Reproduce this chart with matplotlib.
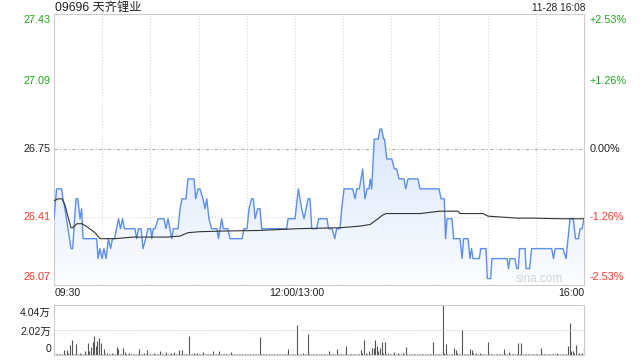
import numpy as np
import matplotlib
matplotlib.use("Agg")
import matplotlib.pyplot as plt
from matplotlib.colors import LinearSegmentedColormap

plt.rcParams['font.family'] = ['Liberation Sans', 'Noto Sans CJK SC', 'DejaVu Sans']

title = "09696 天齐锂业"
stamp = "11-28 16:08"
prev_close = 26.75

# price line vertices (minutes after 09:30, lunch break removed) and prices
price_min = [0, 1.6, 4.7, 5.6, 6.8, 10.6, 11.6, 13.7, 14.8, 16.2, 17.2, 18.1, 26.6, 27.4,
             28.6, 29.9, 31.1, 32.4, 33.9, 35.2, 36.4, 37.7, 38.9, 40.2, 41.4, 42.7, 43.9,
             50.4, 51.5, 52.6, 54.2, 55.4, 57.1, 58.5, 60.2, 60.8, 61.8, 62.9, 64.8, 68.5,
             69.7, 71.0, 73.3, 74.4, 77.2, 78.5, 79.7, 82.2, 83.4, 87.2, 88.2, 89.7, 90.9,
             92.8, 94.0, 95.1, 96.5, 98.1, 101.5, 102.4, 103.4, 104.4, 105.4, 108.3, 109.6,
             117.1, 118.3, 120.2, 121.4, 123.0, 124.1, 125.2, 126.8, 128.3, 129.3, 144.9,
             145.7, 150.1, 152.1, 154.2, 155.7, 158.2, 159.4, 160.5, 163.6, 164.7, 170.0,
             170.9, 173.1, 174.8, 176.0, 178.1, 179.1, 180.6, 186.0, 187.4, 188.5, 190.1,
             192.2, 193.6, 194.9, 196.1, 196.9, 197.8, 199.4, 201.9, 203.0, 204.0, 205.2,
             205.8, 207.2, 210.3, 211.9, 213.4, 214.8, 217.9, 219.0, 220.4, 226.6, 227.9,
             239.7, 241.0, 243.0, 243.8, 244.7, 247.8, 248.8, 252.8, 254.1, 255.0, 257.8,
             259.0, 260.0, 260.9, 264.8, 265.7, 269.0, 269.8, 271.9, 272.7, 282.1, 283.0,
             283.9, 287.0, 288.1, 289.1, 289.9, 293.3, 293.9, 296.1, 297.4, 309.9, 311.0,
             312.0, 316.9, 318.8, 321.3, 323.3, 324.7, 326.5, 327.6, 328.8, 330]
price_val = [26.40, 26.55, 26.55, 26.50, 26.45, 26.25, 26.25, 26.50, 26.50, 26.40, 26.45, 26.30, 26.30, 26.20,
             26.25, 26.20, 26.25, 26.20, 26.30, 26.25, 26.30, 26.30, 26.35, 26.40, 26.35, 26.40, 26.35,
             26.35, 26.30, 26.35, 26.35, 26.25, 26.30, 26.35, 26.35, 26.30, 26.35, 26.35, 26.40, 26.40,
             26.35, 26.40, 26.30, 26.35, 26.35, 26.45, 26.50, 26.50, 26.60, 26.60, 26.50, 26.55, 26.55,
             26.50, 26.45, 26.50, 26.40, 26.35, 26.35, 26.30, 26.35, 26.40, 26.35, 26.35, 26.30,
             26.30, 26.35, 26.35, 26.45, 26.50, 26.50, 26.40, 26.45, 26.45, 26.35, 26.35,
             26.40, 26.40, 26.55, 26.45, 26.40, 26.50, 26.50, 26.35, 26.35, 26.40, 26.40,
             26.35, 26.35, 26.30, 26.35, 26.35, 26.45, 26.55, 26.55, 26.50, 26.55, 26.55,
             26.65, 26.50, 26.55, 26.55, 26.60, 26.55, 26.80, 26.80, 26.85, 26.85, 26.80,
             26.80, 26.70, 26.70, 26.65, 26.65, 26.60, 26.60, 26.55, 26.60, 26.60, 26.55,
             26.55, 26.50, 26.50, 26.30, 26.40, 26.40, 26.30, 26.30, 26.20, 26.30, 26.30,
             26.20, 26.25, 26.20, 26.20, 26.25, 26.25, 26.10, 26.10, 26.20, 26.20, 26.15,
             26.20, 26.20, 26.15, 26.15, 26.25, 26.25, 26.15, 26.15, 26.25, 26.25, 26.20,
             26.25, 26.25, 26.20, 26.40, 26.40, 26.30, 26.30, 26.35, 26.35, 26.40]

# average price line
avg_min = [0, 2.5, 5, 6.8, 8.7, 10.6, 11.8, 14.3, 17.4, 20.5, 25.5, 28.6, 38, 49.2, 70.4,
           78.5, 83.4, 90.9, 103.4, 127, 151.3, 178.1, 190.5, 196.8, 201.1, 204.2, 206.7,
           227.9, 240.3, 251.6, 252.8, 267.1, 270.2, 288.9, 298.3, 315.1, 330]
avg_val = [26.49, 26.50, 26.50, 26.47, 26.41, 26.355, 26.355, 26.375, 26.375, 26.36, 26.33,
           26.30, 26.30, 26.308, 26.308, 26.313, 26.33, 26.335, 26.338, 26.341, 26.35, 26.355,
           26.363, 26.371, 26.396, 26.416, 26.426, 26.426, 26.438, 26.438, 26.426, 26.426,
           26.413, 26.403, 26.403, 26.40, 26.40]

# volume per minute (shares)
vol = [2000, 500, 400, 600, 500, 800, 3500, 600, 3500, 900, 8000, 12100, 700, 500, 8300,
       600, 1600, 500, 700, 3000, 800, 9400, 3000, 6200, 10200, 15000, 6700, 11000, 13400, 9400,
       700, 4600, 500, 1300, 400, 600, 1300, 500, 400, 5900, 4800, 600, 500, 5600, 2100,
       400, 500, 1300, 600, 400, 500, 700, 600, 4300, 500, 400, 1600, 600, 3500, 500,
       400, 600, 1300, 500, 700, 500, 2700, 600, 400, 500, 2100, 600, 500, 1600, 400,
       2100, 500, 600, 4000, 500, 3500, 700, 600, 500, 14800, 600, 800, 1600, 500, 1600,
       600, 500, 700, 1900, 500, 600, 400, 500, 600, 2700, 500, 400, 600, 3000, 500,
       400, 500, 600, 400, 500, 2100, 500, 400, 300, 500, 400, 300, 500, 400, 300,
       400, 300, 500, 400, 300, 400, 500, 300, 14300, 400, 300, 400, 300, 500, 400,
       300, 400, 300, 500, 400, 300, 400, 500, 300, 400, 500, 4300, 400, 300, 500,
       600, 23700, 700, 800, 600, 1300, 700, 500, 16400, 600, 500, 400, 600, 500, 700,
       500, 400, 600, 500, 400, 600, 2700, 500, 400, 600, 500, 4300, 600, 500, 400,
       500, 600, 6700, 500, 400, 600, 500, 700, 500, 600, 800, 3500, 900, 11600, 1300,
       800, 3000, 700, 5400, 5400, 11600, 7000, 3000, 5400, 10000, 900, 10000, 800, 1600, 700,
       600, 500, 1900, 600, 1300, 500, 400, 1600, 600, 5900, 500, 400, 600, 500, 400,
       500, 600, 400, 500, 600, 500, 400, 600, 500, 700, 500, 10000, 600, 500, 700,
       800, 600, 40400, 900, 8300, 700, 600, 500, 800, 5100, 3500, 1300, 700, 600, 20400,
       800, 600, 500, 700, 4300, 3500, 900, 600, 1300, 500, 1300, 600, 500, 700, 600,
       10000, 600, 500, 400, 600, 500, 400, 600, 500, 700, 4300, 600, 500, 2100, 600,
       500, 400, 600, 500, 9400, 600, 9400, 500, 400, 600, 500, 400, 600, 500, 400,
       500, 600, 400, 5400, 500, 400, 600, 500, 400, 500, 600, 400, 500, 1300, 500,
       600, 400, 500, 600, 700, 7000, 25600, 3000, 2700, 900, 7800, 800, 1300, 700, 900,
       6200]

left_labels = ["27.43", "27.09", "26.75", "26.41", "26.07"]
right_labels = ["+2.53%", "+1.26%", "0.00%", "-1.26%", "-2.53%"]
label_colors = ["#1fa51f", "#1fa51f", "#222222", "#f23a2a", "#f23a2a"]
time_labels = ["09:30", "12:00/13:00", "16:00"]
vol_labels = ["4.04万", "2.02万", "0"]

W, H = 640, 360
fig = plt.figure(figsize=(6.4, 3.6), dpi=100)


def fx(x, y):
    return x / W, 1 - y / H


# main price panel
ax = fig.add_axes([54 / W, 1 - 284.5 / H, 530 / W, 271 / H])
for s in ax.spines.values():
    s.set_color("#cccccc")
    s.set_linewidth(0.8)
ax.set_xticks([])
ax.set_yticks([])
for m in range(30, 330, 30):
    ax.axvline(m, color="#cfcfcf", lw=0.7, ls=(0, (1, 2)), zorder=0)
ax.axhline(prev_close, color="#b0b0b0", lw=0.8, ls=(0, (3, 2, 1, 2)), zorder=0)
ax.axhline(26.41, color="#cfcfcf", lw=0.7, ls=(0, (1, 2)), zorder=0)

poly = ax.fill_between(price_min, price_val, 26.07, color="none")
cmap = LinearSegmentedColormap.from_list("f", ["#fbfdff", "#dae6fa"])
grad = np.linspace(0, 1, 256).reshape(-1, 1)
im = ax.imshow(grad, extent=[0, 330, 26.07, 26.86], origin="lower", aspect="auto",
               cmap=cmap, zorder=1)
im.set_clip_path(poly.get_paths()[0], transform=ax.transData)

ax.plot(price_min, price_val, color="#5b8fec", lw=1.0, zorder=3)
ax.plot(avg_min, avg_val, color="#333333", lw=0.8, zorder=4)
ax.set_xlim(0, 330)
ax.set_ylim(26.07, 27.43)

# volume panel
vax = fig.add_axes([54 / W, 1 - 354.5 / H, 530 / W, 49.5 / H])
vax.vlines(range(len(vol)), 0, vol, color="#555555", lw=0.8)
vax.axhline(20200, color="#cfcfcf", lw=0.7, ls=(0, (1, 1)))
vax.set_xlim(0, 330)
vax.set_ylim(0, 40400)
vax.set_xticks([])
vax.set_yticks([])
for k, s in vax.spines.items():
    s.set_color("#cccccc")
    s.set_linewidth(0.8)
vax.spines["top"].set_linestyle((0, (1, 1)))
vax.spines["left"].set_linestyle((0, (1, 1)))

# texts
fig.text(*fx(55, 8), title, fontsize=8.8, color="#222222", va="center", ha="left")
fig.text(*fx(585, 8), stamp, fontsize=7.3, color="#222222", va="center", ha="right")

ys = [20, 81, 149, 217, 277]
for lab, rl, c, y in zip(left_labels, right_labels, label_colors, ys):
    fig.text(*fx(51, y), lab, fontsize=7.8, color=c, va="center", ha="right")
    fig.text(*fx(590, y), rl, fontsize=7.8, color=c, va="center", ha="left")

fig.text(*fx(55, 293), time_labels[0], fontsize=7.6, color="#222222", va="center", ha="left")
fig.text(*fx(297, 293), time_labels[1], fontsize=7.6, color="#222222", va="center", ha="center")
fig.text(*fx(584, 293), time_labels[2], fontsize=7.6, color="#222222", va="center", ha="right")

for lab, y in zip(vol_labels, [313, 332, 349]):
    fig.text(*fx(51, y), lab, fontsize=7.6, color="#222222", va="center", ha="right")

fig.text(*fx(539, 279), "sina.com", fontsize=8.5, color="#d4d4d4", va="center", ha="center")

fig.savefig("out.png", dpi=100)
